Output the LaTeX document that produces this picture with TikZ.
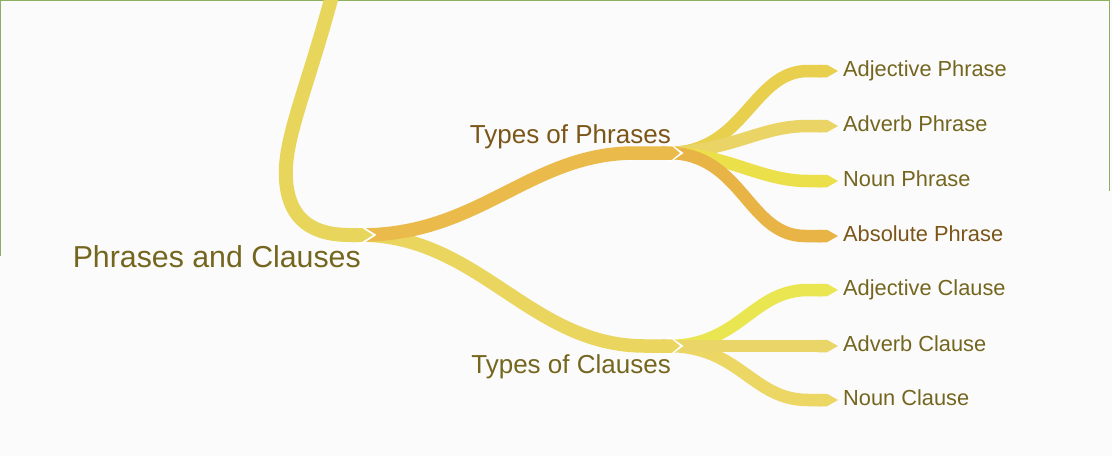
\documentclass[tikz,border=0pt]{standalone}
\usepackage{fontspec}
\setmainfont{Liberation Sans}
\usetikzlibrary{arrows.meta,positioning}

\definecolor{bgc}{RGB}{251,251,251}
\definecolor{framec}{RGB}{140,176,96}
\definecolor{txtolive}{RGB}{116,102,30}
\definecolor{txtbrown}{RGB}{124,86,24}
\definecolor{bandroot}{RGB}{232,214,92}
\definecolor{bandphr}{RGB}{234,186,74}
\definecolor{bandcla}{RGB}{234,214,94}
\definecolor{bandadjp}{RGB}{232,208,78}
\definecolor{bandadvp}{RGB}{234,212,102}
\definecolor{bandnounp}{RGB}{236,224,74}
\definecolor{bandabsp}{RGB}{232,180,70}
\definecolor{bandadjc}{RGB}{234,230,82}
\definecolor{bandadvc}{RGB}{234,214,104}
\definecolor{bandnounc}{RGB}{236,214,100}

\begin{document}
\begin{tikzpicture}[ x=1pt, y=-1pt, band/.style={ line width=14pt,
      -{Triangle Cap[length=11pt]} }, midband/.style={ line width=13.5pt,
      -{Triangle Cap[length=8pt]} }, leafband/.style={band, line
      width=12.5pt}, notch/.style={fill=white},
      leaf/.style={ anchor=west, inner sep=0pt, text height=15pt, text
      depth=4pt, font=\fontsize{21.8}{26}\selectfont },
      mid/.style={ anchor=base east, inner sep=0pt,
      font=\fontsize{26}{31}\selectfont } ]

    \clip (0,0) rectangle (1112,456);
    \fill[bgc] (0,0) rectangle (1112,456);
    \draw[framec, line width=1.5pt] (0.5,256) -- (0.5,0.5) -- (1109.5,0.5);
    \draw[framec, line width=1.5pt] (1109.5,0) -- (1109.5,191);

    \coordinate (rtop) at (333,-8);
    \coordinate (jroot) at (373,235);
    \coordinate (jphr) at (680,153);
    \coordinate (jcla) at (680,346);

    \node[anchor=base east, inner sep=0pt, text=txtolive,
      font=\fontsize{30.3}{36}\selectfont] (root) at (361,267) {Phrases and
      Clauses};
    \node[mid, text=txtbrown] (phr) at (671,143) {Types of Phrases};
    \node[mid, text=txtolive] (cla) at (671,373) {Types of Clauses};

    \node[leaf, text=txtolive] (adjp) at (843,71) {Adjective Phrase};
    \node[leaf, text=txtolive] (advp) at (843,126) {Adverb Phrase};
    \node[leaf, text=txtolive] (nounp) at (843,181) {Noun Phrase};
    \node[leaf, text=txtbrown] (absp) at (843,236) {Absolute Phrase};
    \node[leaf, text=txtolive] (adjc) at (843,290) {Adjective Clause};
    \node[leaf, text=txtolive] (advc) at (843,346) {Adverb Clause};
    \node[leaf, text=txtolive] (nounc) at (843,400) {Noun Clause};

    \draw[leafband, bandadjp] ([xshift=-12pt]jphr) .. controls (745,153)
      and (752,71) .. (808,71) -- ([xshift=-5pt]adjp.west);
    \draw[leafband, bandadvp] ([xshift=-12pt]jphr) .. controls (735,150)
      and (760,126) .. (808,126) -- ([xshift=-5pt]advp.west);
    \draw[leafband, bandnounp] ([xshift=-12pt]jphr) .. controls (725,153)
      and (760,181) .. (808,181) -- ([xshift=-5pt]nounp.west);
    \draw[leafband, bandabsp] ([xshift=-12pt]jphr) .. controls (742,153)
      and (748,236) .. (805,236) -- ([xshift=-5pt]absp.west);

    \draw[leafband, bandnounc] ([xshift=-12pt]jcla) .. controls (740,346)
      and (752,400) .. (808,400) -- ([xshift=-5pt]nounc.west);
    \draw[leafband, bandadjc] ([xshift=-12pt]jcla) .. controls (740,346)
      and (752,290) .. (808,290) -- ([xshift=-5pt]adjc.west);
    \draw[leafband, bandadvc] ([xshift=-12pt]jcla) -- ([xshift=-5pt]advc.west);

    \fill[notch] ([xshift=-12pt,yshift=11pt]jphr) -- ([xshift=3.5pt]jphr)
      -- ([xshift=-12pt,yshift=-11pt]jphr) -- cycle;
    \fill[notch] ([xshift=-12pt,yshift=11pt]jcla) -- ([xshift=3.5pt]jcla)
      -- ([xshift=-12pt,yshift=-11pt]jcla) -- cycle;

    \draw[midband, bandcla] ([xshift=-12pt]jroot) .. controls (480,236) and
      (530,346) .. (645,346) -- (jcla);
    \draw[midband, bandphr] ([xshift=-12pt]jroot) .. controls (480,235) and
      (530,153) .. (635,153) -- (jphr);

    \fill[notch] ([xshift=-14pt,yshift=11pt]jroot) -- ([xshift=3.5pt]jroot)
      -- ([xshift=-14pt,yshift=-11pt]jroot) -- cycle;

    \draw[band, bandroot] (rtop) .. controls (307,90) and (283,140) ..
      (286,180) .. controls (289,222) and (315,235) .. (350,235) -- (jroot);

  \end{tikzpicture}
\end{document}
